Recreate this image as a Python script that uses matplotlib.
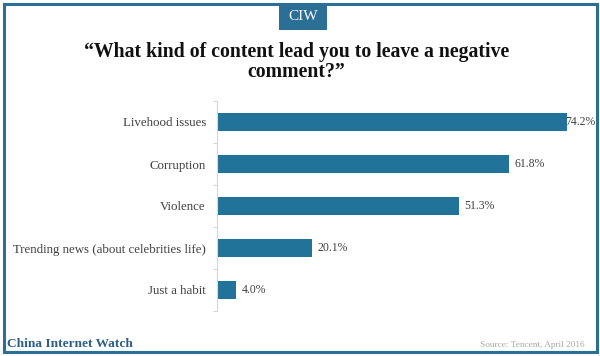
import matplotlib
matplotlib.use("Agg")
import matplotlib.pyplot as plt
from matplotlib.patches import Rectangle
import numpy as np

categories = ["Livehood issues", "Corruption", "Violence",
              "Trending news (about celebrities life)", "Just a habit"]
values = [74.2, 61.8, 51.3, 20.1, 4.0]
labels = ["74.2%", "61.8%", "51.3%", "20.1%", "4.0%"]

BAR = "#21739a"
FRAME = "#2b6e96"
SERIF = ["Liberation Serif", "DejaVu Serif"]

fig = plt.figure(figsize=(6.0, 3.56), dpi=100)
W, H = 600, 356

# frame
fig.patches.append(Rectangle((4 / W, 4 / H), 593 / W, 348 / H, transform=fig.transFigure,
                             fill=False, edgecolor=FRAME, linewidth=2.2))
# CIW box
fig.patches.append(Rectangle((279 / W, 1 - 30 / H), 48 / W, 27 / H, transform=fig.transFigure,
                             facecolor=FRAME, edgecolor="none"))
fig.text(303 / W, 1 - 17 / H, "CIW", color="white", ha="center", va="center",
         fontsize=11, family=SERIF)

fig.text(297 / W, 1 - 52 / H, "\u201cWhat kind of content lead you to leave a negative",
         ha="center", va="center", fontsize=14.2, fontweight="bold", family=SERIF,
         color="#111111")
fig.text(296 / W, 1 - 72 / H, "comment?\u201d",
         ha="center", va="center", fontsize=14.2, fontweight="bold", family=SERIF,
         color="#111111")

ax = fig.add_axes([217 / W, 1 - 311 / H, 373 / W, 210 / H])
y = np.arange(len(categories))
ax.barh(y, values, height=0.45, color=BAR)
ax.set_ylim(len(categories) - 0.5, -0.5)
ax.set_xlim(0, 373 / 4.717)
ax.set_yticks(y)
ax.set_yticklabels(categories, family=SERIF, fontsize=9.3, color="#404040")
ax.tick_params(axis="y", which="major", length=0, pad=8)
ax.set_yticks(np.arange(-0.5, len(categories), 1), minor=True)
ax.tick_params(axis="y", which="minor", length=3, color="#d8d8d8", width=0.8)
ax.set_xticks([])
for s in ["top", "right", "bottom"]:
    ax.spines[s].set_visible(False)
ax.spines["left"].set_color("#d8d8d8")
ax.spines["left"].set_linewidth(0.8)

for yi, v, lab in zip(y, values, labels):
    ax.text(v + 1.2 if v < 70 else v - 0.3, yi, lab, va="center", ha="left",
            fontsize=8.5, family=SERIF, color="#404040")

fig.text(7 / W, 1 - 344 / H, "China Internet Watch", fontsize=9.6, fontweight="bold",
         family=SERIF, color="#2a5f88", va="center", ha="left")
fig.text(585 / W, 1 - 345 / H, "Source: Tencent, April 2016", fontsize=6.7,
         family=SERIF, color="#a8a8a8", va="center", ha="right")

fig.savefig("out.png", dpi=100)
